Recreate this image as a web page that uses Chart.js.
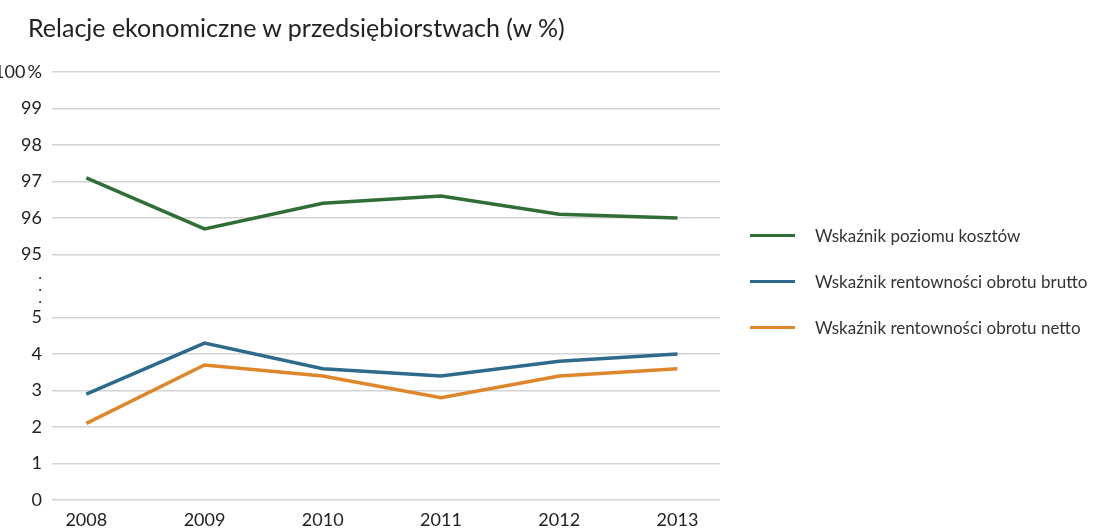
<!DOCTYPE html>
<html>
<head>
<meta charset="utf-8">
<script src="https://cdn.jsdelivr.net/npm/chart.js@4"></script>
<style>
  html, body { margin: 0; padding: 0; background: #fff; }
  #wrap { width: 1107px; height: 529px; position: relative; }
  #tytul { position: absolute; left: 28px; top: 12px; margin: 0; font-family: Lato, sans-serif;
           font-size: 25px; font-weight: normal; line-height: 30px; color: #222; }
  #legenda { position: absolute; left: 750px; top: 222px; margin: 0; padding: 0; list-style: none;
             font-family: Lato, sans-serif; font-size: 17px; color: #333; }
  #legenda li { display: flex; align-items: center; height: 26px; margin-bottom: 20px; }
  #legenda span.linia { display: inline-block; width: 45px; height: 3px; margin-right: 20px; }
</style>
</head>
<body>
<div id="wrap">
  <canvas id="chart-relacje"></canvas>
  <h1 id="tytul">Relacje ekonomiczne w przedsiębiorstwach (w %)</h1>
  <ul id="legenda"></ul>
</div>
<script>
// dane
const lata = [2008, 2009, 2010, 2011, 2012, 2013];
const poziomKosztow = [97.1, 95.7, 96.4, 96.6, 96.1, 96.0];
const rentownoscBrutto = [2.9, 4.3, 3.6, 3.4, 3.8, 4.0];
const rentownoscNetto = [2.1, 3.7, 3.4, 2.8, 3.4, 3.6];
const ticksDol = [0, 1, 2, 3, 4, 5];
const ticksGora = [95, 96, 97, 98, 99, 100];

// przerwana oś: 5 -> 95
const PRZERWA = 1.73;
const GORA_OD = 95;
function naOs(v) {
  return v >= GORA_OD ? v - GORA_OD + 5 + PRZERWA : v;
}
function zOsi(v) {
  return v > 5 + 0.001 ? Math.round(v - 5 - PRZERWA + GORA_OD) : Math.round(v);
}
const SRODEK = 5 + PRZERWA / 2;
const czySrodek = (v) => Math.abs(v - SRODEK) < 0.01;

function punkty(values) {
  return values.map((v, i) => ({ x: lata[i], y: naOs(v) }));
}

const ctx = document.getElementById('chart-relacje').getContext('2d');
const chart = new Chart(ctx, {
  type: 'line',
  data: {
    datasets: [
      {
        label: 'Wskaźnik poziomu kosztów',
        data: punkty(poziomKosztow),
        borderColor: '#2f6e35',
        backgroundColor: '#2f6e35'
      },
      {
        label: 'Wskaźnik rentowności obrotu brutto',
        data: punkty(rentownoscBrutto),
        borderColor: '#2e6a8c',
        backgroundColor: '#2e6a8c'
      },
      {
        label: 'Wskaźnik rentowności obrotu netto',
        data: punkty(rentownoscNetto),
        borderColor: '#e0862a',
        backgroundColor: '#e0862a'
      }
    ]
  },
  options: {
    responsive: true,
    maintainAspectRatio: false,
    animation: false,
    elements: {
      line: { borderWidth: 3.5, tension: 0 },
      point: { radius: 0 }
    },
    layout: { padding: { left: 0, right: 387, top: 72, bottom: 0 } },
    plugins: {
      legend: { display: false },
      tooltip: { enabled: false }
    },
    scales: {
      x: {
        type: 'linear',
        min: 2007.71,
        max: 2013.36,
        afterBuildTicks: (axis) => { axis.ticks = lata.map(v => ({ value: v })); },
        afterFit: (axis) => { axis.height = 29; },
        grid: { display: false },
        border: { display: false },
        ticks: {
          color: '#222',
          font: { family: 'Lato', size: 18 },
          padding: 1,
          maxRotation: 0,
          autoSkip: false,
          callback: (v) => String(v)
        }
      },
      y: {
        type: 'linear',
        min: 0,
        max: naOs(100),
        afterBuildTicks: (axis) => {
          axis.ticks = ticksDol.map(v => ({ value: v }))
            .concat([{ value: SRODEK }])
            .concat(ticksGora.map(v => ({ value: naOs(v) })));
        },
        afterFit: (axis) => {
          axis.width = 52;
          // etykieta "100 %" wystaje poza oś – bez przycinania
          axis._computeLabelArea = () => undefined;
        },
        border: { display: false },
        grid: {
          color: (c) => (c.tick && czySrodek(c.tick.value)) ? 'rgba(0,0,0,0)' : '#d4d4d4',
          lineWidth: 1.5,
          drawTicks: false
        },
        ticks: {
          color: '#222',
          padding: 10,
          autoSkip: false,
          font: (c) => (c.tick && czySrodek(c.tick.value))
            ? { family: 'Lato', size: 16, lineHeight: 0.75 }
            : { family: 'Lato', size: 18 },
          callback: (v) => {
            if (czySrodek(v)) return ['.', '.', '.'];
            const t = zOsi(v);
            return t === 100 ? '100\u2009%' : String(t);
          }
        }
      }
    }
  }
});

// legenda po prawej
const legenda = document.getElementById('legenda');
chart.data.datasets.forEach(ds => {
  const li = document.createElement('li');
  const linia = document.createElement('span');
  linia.className = 'linia';
  linia.style.background = ds.borderColor;
  li.appendChild(linia);
  li.appendChild(document.createTextNode(ds.label));
  legenda.appendChild(li);
});
</script>
</body>
</html>
